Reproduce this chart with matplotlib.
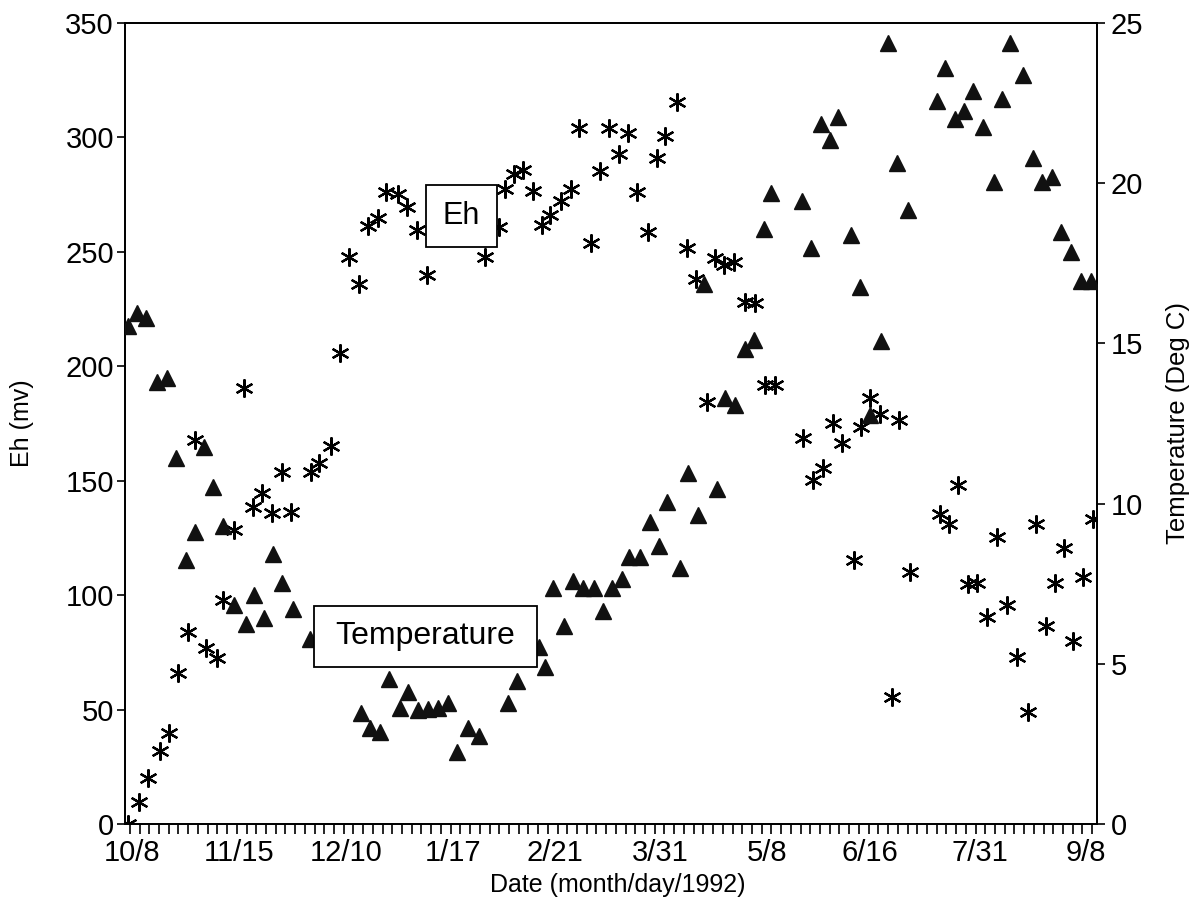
import matplotlib
matplotlib.use("Agg")
import matplotlib.pyplot as plt
from matplotlib.patches import Rectangle
import numpy as np

plt.rcParams['font.family'] = ['Liberation Sans', 'DejaVu Sans']

# sample position along the x axis (one minor tick per sample)
eh_x = [-0.2, 0.9, 1.9, 3.1, 4.0, 4.9, 6.0, 6.7, 7.8, 9.0, 9.6, 10.7, 11.7, 12.7, 13.6,
        14.6, 15.6, 16.6, 18.6, 19.5, 20.7, 21.6, 22.5, 23.6, 24.5, 25.5, 26.4, 27.6,
        28.5, 29.5, 30.6, 36.5, 38.0, 38.6, 39.5, 40.4, 41.5, 42.4, 43.2, 44.4, 45.4,
        46.2, 47.4, 48.4, 49.3, 50.3, 51.2, 52.2, 53.3, 54.2, 55.1, 56.3, 57.3, 58.2,
        59.4, 60.2, 61.1, 62.2, 63.3, 64.3, 65.3, 66.4, 69.2, 70.3, 71.3, 72.3, 73.3,
        74.5, 75.2, 76.1, 77.2, 78.4, 79.1, 80.3, 83.3, 84.3, 85.2, 86.2, 87.1, 88.2,
        89.2, 90.2, 91.3, 92.4, 93.2, 94.2, 95.2, 96.1, 97.0, 98.1, 99.1]
eh_mv = [0, 9.6, 20.1, 31.9, 39.8, 66.0, 83.9, 167.8, 76.9, 72.5, 97.9, 128.4, 190.5,
         138.5, 144.6, 135.9, 153.8, 136.3, 153.8, 157.7, 165.1, 205.8, 247.7, 235.9,
         261.2, 264.7, 276.1, 275.2, 269.5, 259.5, 239.8, 247.7, 261.0, 277.4, 284.0,
         285.7, 276.5, 261.7, 266.1, 272.2, 277.4, 304.1, 253.8, 285.3, 304.1, 292.7,
         301.9, 276.1, 258.6, 290.9, 300.6, 315.4, 251.6, 238.1, 184.4, 247.3, 244.2,
         245.5, 228.0, 227.6, 191.8, 191.8, 168.6, 150.3, 155.5, 175.2, 166.4, 115.3,
         173.4, 186.1, 179.1, 55.5, 176.5, 110.1, 135.4, 131.1, 148.1, 104.8, 105.3,
         90.4, 125.4, 95.7, 73.0, 48.9, 131.1, 86.5, 105.3, 120.6, 79.9, 107.9, 133.2]

temp_x = [-0.2, 0.7, 1.7, 2.8, 3.8, 4.7, 5.8, 6.7, 7.6, 8.6, 9.6, 10.7, 11.9, 12.8,
          13.8, 14.7, 15.7, 16.8, 18.5, 23.8, 24.7, 25.7, 26.7, 27.8, 28.6, 29.6, 30.7,
          31.7, 32.7, 33.7, 34.8, 35.9, 38.9, 39.8, 42.1, 42.7, 43.5, 44.7, 45.6, 46.6,
          47.7, 48.7, 49.6, 50.6, 51.4, 52.5, 53.5, 54.4, 55.3, 56.6, 57.4, 58.4, 59.1,
          60.4, 61.2, 62.3, 63.3, 64.2, 65.2, 66.0, 69.1, 70.1, 71.1, 72.0, 72.9, 74.2,
          75.1, 76.1, 77.3, 78.0, 78.9, 80.1, 83.0, 83.9, 84.9, 85.8, 86.7, 87.8, 88.9,
          89.7, 90.5, 91.9, 92.9, 93.8, 94.9, 95.8, 96.8, 97.9, 98.9]
temp_c = [15.54, 15.95, 15.79, 13.80, 13.92, 11.42, 8.24, 9.11, 11.77, 10.52, 9.30,
          6.84, 6.24, 7.15, 6.43, 8.43, 7.52, 6.71, 5.77, 3.46, 3.00, 2.87, 4.53, 3.62,
          4.12, 3.56, 3.59, 3.62, 3.78, 2.25, 3.00, 2.75, 3.78, 4.46, 5.52, 4.90, 7.37,
          6.18, 7.58, 7.37, 7.37, 6.65, 7.37, 7.65, 8.33, 8.33, 9.43, 8.68, 10.05, 7.99,
          10.96, 9.64, 16.85, 10.46, 13.30, 13.08, 14.83, 15.11, 18.57, 19.69, 19.44,
          17.98, 21.85, 21.35, 22.07, 18.38, 16.76, 12.75, 15.07, 24.38, 20.63, 19.16,
          22.57, 23.60, 22.00, 22.25, 22.88, 21.75, 20.04, 22.63, 24.38, 23.38, 20.79,
          20.04, 20.19, 18.48, 17.85, 16.95, 16.95]

date_pos = [0.2, 11.2, 22.2, 33.2, 43.7, 54.6, 65.6, 76.1, 87.4, 98.4]
date_labels = ['10/8', '11/15', '12/10', '1/17', '2/21', '3/31', '5/8', '6/16', '7/31', '9/8']

fig = plt.figure(figsize=(11.94, 9.01), dpi=100)
ax = fig.add_axes([0.1047, 0.0855, 0.8141, 0.889])
ax2 = ax.twinx()

ax.plot(eh_x, eh_mv, linestyle='none', marker=(6, 2, 0), markersize=13,
        markeredgewidth=1.6, color='black', zorder=3)
ax2.plot(temp_x, temp_c, linestyle='none', marker='^', markersize=11,
         color='#111111', zorder=3)

ax.set_xlim(-0.5, 99.5)
ax.set_ylim(0, 350)
ax2.set_ylim(0, 25)
ax.set_yticks(np.arange(0, 351, 50))
ax2.set_yticks(np.arange(0, 26, 5))

ax.set_xticks(date_pos)
ax.set_xticklabels(date_labels)
ax.set_xticks(np.arange(0, 100), minor=True)
ax.tick_params(axis='x', which='major', length=0, pad=11, labelsize=21)
ax.tick_params(axis='x', which='minor', length=7, width=1.2, direction='out')
ax.tick_params(axis='y', length=6, width=1.2, direction='out', labelsize=21, pad=2)
ax2.tick_params(axis='y', length=6, width=1.2, direction='out', labelsize=21, pad=4)

for a in (ax, ax2):
    for s in a.spines.values():
        s.set_linewidth(1.3)

ax.set_xlabel('Date (month/day/1992)', fontsize=18)
ax.xaxis.set_label_coords(0.507, -0.061)
ax.set_ylabel('Eh (mv)', fontsize=18)
ax.yaxis.set_label_coords(-0.094, 0.5)
ax2.set_ylabel('Temperature (Deg C)', fontsize=18.5)
ax2.yaxis.set_label_coords(1.071, 0.5)

# label boxes
for (x0, y0, w, h, txt, fs) in [(0.3097, 0.7203, 0.073, 0.0775, 'Eh', 22),
                                (0.1944, 0.196, 0.2295, 0.0762, 'Temperature', 23)]:
    ax2.add_patch(Rectangle((x0, y0), w, h, transform=ax2.transAxes, facecolor='white',
                            edgecolor='black', linewidth=1.3, zorder=5))
    ax2.text(x0 + w / 2, y0 + h / 2, txt, transform=ax2.transAxes, ha='center',
             va='center', fontsize=fs, zorder=6)

fig.savefig('out.png', dpi=100)
